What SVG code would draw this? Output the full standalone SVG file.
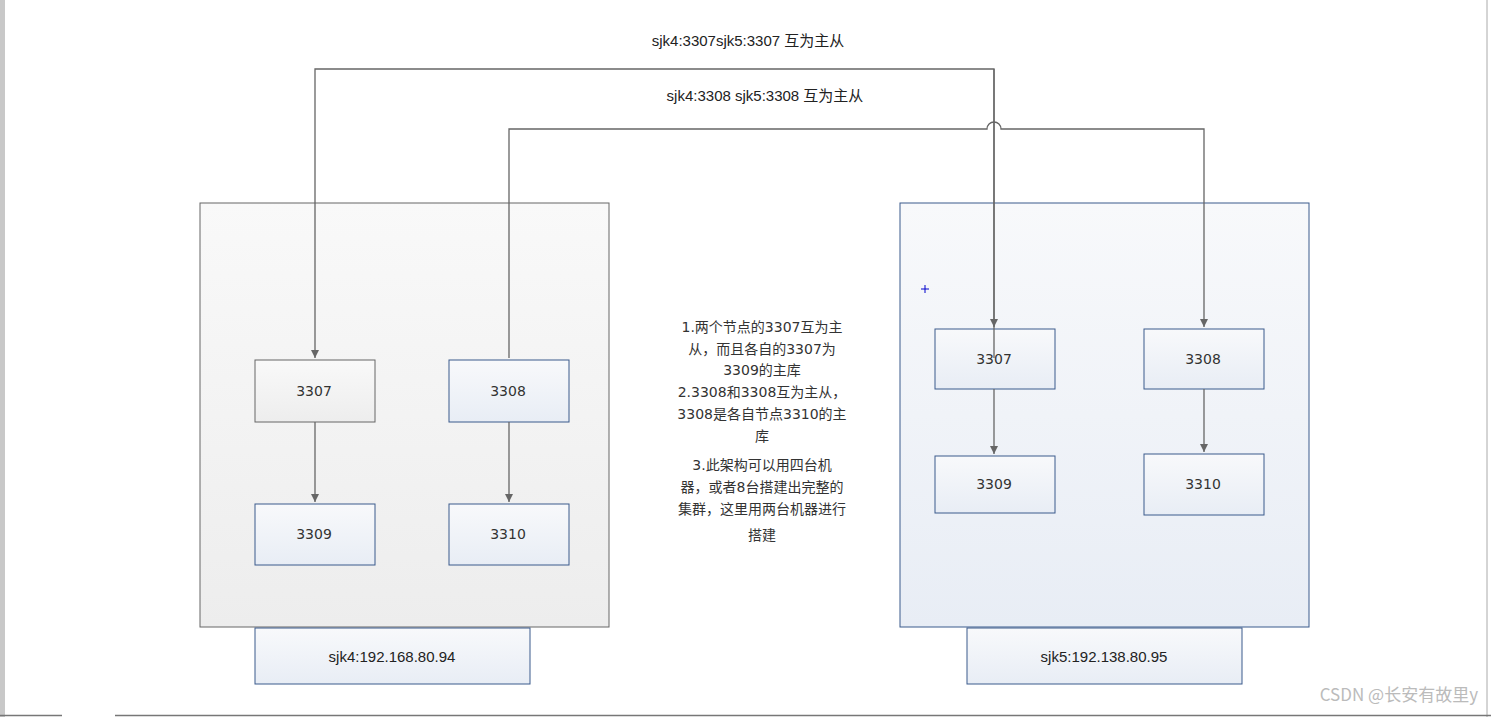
<svg xmlns="http://www.w3.org/2000/svg" width="1491" height="717" viewBox="0 0 1491 717">
<defs>
<linearGradient id="gb" x1="0" y1="0" x2="0" y2="1"><stop offset="0" stop-color="#f8f9fb"/><stop offset="1" stop-color="#e8edf5"/></linearGradient>
<linearGradient id="gg" x1="0" y1="0" x2="0" y2="1"><stop offset="0" stop-color="#f9f9f9"/><stop offset="1" stop-color="#ededed"/></linearGradient>
<marker id="a" markerWidth="10" markerHeight="10" refX="8" refY="4" orient="auto" markerUnits="userSpaceOnUse"><path d="M0,0 L8,4 L0,8 Z" fill="#666"/></marker>
<style>
.bb{fill:url(#gb);stroke:#3b5a8c;stroke-width:1}
.gb{fill:url(#gg);stroke:#666;stroke-width:1}
.t{font-family:"Liberation Sans","Noto Sans CJK SC",sans-serif;font-size:15px;fill:#222;text-anchor:middle}
.n{font-family:"DejaVu Sans","Noto Sans CJK SC",sans-serif;font-size:14px;fill:#333;text-anchor:middle}
.c path{fill:none;stroke:#666;stroke-width:1.3}
</style>
</defs>
<rect width="1491" height="717" fill="#fff"/>
<rect x="0" y="0" width="5" height="717" fill="#c8c8c8"/>
<line x1="1487" y1="0" x2="1487" y2="717" stroke="#aaa"/>
<path d="M0,715.5 H62 M115,715.5 H1491" stroke="#777" stroke-width="1.5"/>
<g id="host1"><rect class="gb" x="200" y="203" width="409" height="424"/></g>
<g id="host2"><rect class="bb" x="900" y="203" width="409" height="424"/></g>
<g id="ip1"><rect class="bb" x="255" y="628" width="275" height="56"/><text class="t" x="392" y="662">sjk4:192.168.80.94</text></g>
<g id="ip2"><rect class="bb" x="967" y="628" width="275" height="56"/><text class="t" x="1104" y="662">sjk5:192.138.80.95</text></g>
<g id="n1"><rect class="gb" x="255" y="360" width="120" height="62"/><text class="n" x="314" y="396">3307</text></g>
<g id="n2"><rect class="bb" x="449" y="360" width="120" height="62"/><text class="n" x="508" y="396">3308</text></g>
<g id="n3"><rect class="bb" x="255" y="504" width="120" height="61"/><text class="n" x="314" y="539">3309</text></g>
<g id="n4"><rect class="bb" x="449" y="504" width="120" height="61"/><text class="n" x="508" y="539">3310</text></g>
<g id="n5"><rect class="bb" x="935" y="329" width="120" height="60"/><text class="n" x="994" y="364">3307</text></g>
<g id="n6"><rect class="bb" x="1144" y="329" width="120" height="60"/><text class="n" x="1203" y="364">3308</text></g>
<g id="n7"><rect class="bb" x="935" y="456" width="120" height="57"/><text class="n" x="994" y="489">3309</text></g>
<g id="n8"><rect class="bb" x="1144" y="454" width="120" height="61"/><text class="n" x="1203" y="489">3310</text></g>
<g class="c" id="connectors">
<path d="M994,358 V69 H315 V358" marker-end="url(#a)"/>
<path d="M994,69 V327" marker-end="url(#a)"/>
<path d="M509,358 V129 H987 A7,7 0 0 1 1001,129 H1204 V327" marker-end="url(#a)"/>
<path d="M315,422 V502" marker-end="url(#a)"/>
<path d="M509,422 V502" marker-end="url(#a)"/>
<path d="M994,389 V454" marker-end="url(#a)"/>
<path d="M1204,389 V452" marker-end="url(#a)"/>
</g>
<g id="labels">
<text class="t" x="748" y="46">sjk4:3307sjk5:3307 互为主从</text>
<text class="t" x="765" y="101">sjk4:3308  sjk5:3308 互为主从</text>
<g class="n" font-size="15">
<text class="n" x="762" y="332">1.两个节点的3307互为主</text>
<text class="n" x="762" y="354">从，而且各自的3307为</text>
<text class="n" x="762" y="375">3309的主库</text>
<text class="n" x="762" y="397">2.3308和3308互为主从，</text>
<text class="n" x="762" y="419">3308是各自节点3310的主</text>
<text class="n" x="762" y="441">库</text>
<text class="n" x="762" y="470">3.此架构可以用四台机</text>
<text class="n" x="762" y="492">器，或者8台搭建出完整的</text>
<text class="n" x="762" y="514">集群，这里用两台机器进行</text>
<text class="n" x="762" y="540">搭建</text>
</g>
</g>
<path d="M921,289 H929 M925,285 V293" stroke="#00c" stroke-width="1"/>
<text x="1478" y="701" font-family="'Noto Sans CJK SC',sans-serif" font-size="17" fill="#bbb" text-anchor="end">CSDN @长安有故里y</text>
</svg>
